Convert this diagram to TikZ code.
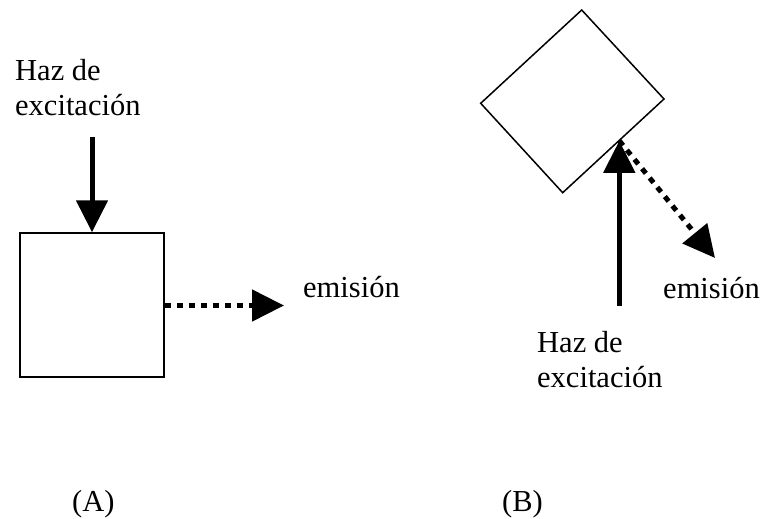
\documentclass[tikz,border=0pt]{standalone}
\usepackage{fontspec}
\setmainfont{Liberation Serif}
\usetikzlibrary{arrows.meta,calc}
\tikzset{
  lbl/.style={inner sep=0pt, anchor=base west, font=\fontsize{30.5pt}{35pt}\selectfont, align=left},
  boxline/.style={draw=black, line width=1.5pt},
  solidarrow/.style={line width=5pt, -{Triangle[length=32pt,width=31pt]}},
  dotarrow/.style={line width=5pt, dash pattern=on 6pt off 6pt, -{Triangle[length=32pt,width=31pt]}},
}
\begin{document}
\begin{tikzpicture}[x=1pt,y=-1pt]
\useasboundingbox (0,0) rectangle (768,519);
% (A)
\node[boxline, minimum size=144pt, inner sep=0pt] (sqA) at (92,305) {};
\node[lbl] (hazA) at (15,115) {Haz de\\excitación};
\coordinate (srcA) at (92,137);
\draw[solidarrow] (srcA) -- (sqA.north);
\coordinate (endA) at (284,305.5);
\draw[dotarrow] (sqA.east |- endA) -- (endA);
\node[lbl] (emA) at (303,297) {emisión};
\node[lbl] (capA) at (72,511) {(A)};
% (B)
\coordinate (dT) at (581.7,10);
\coordinate (dR) at (664,99);
\coordinate (dB) at (562.7,192.7);
\coordinate (dL) at (480.7,103.3);
\draw[boxline, line join=miter] (dT) -- (dR) -- (dB) -- (dL) -- cycle;
\coordinate (hit) at ($(dR)!0.446!(dB)$);
\coordinate (srcB) at (619.3,306);
\draw[solidarrow] (srcB) -- (srcB |- hit);
\coordinate (endB) at (715,258);
\draw[dotarrow] (srcB |- hit) -- (endB);
\node[lbl] (emB) at (663,298) {emisión};
\node[lbl] (hazB) at (537,387) {Haz de\\excitación};
\node[lbl] (capB) at (502,511) {(B)};
\end{tikzpicture}
\end{document}
